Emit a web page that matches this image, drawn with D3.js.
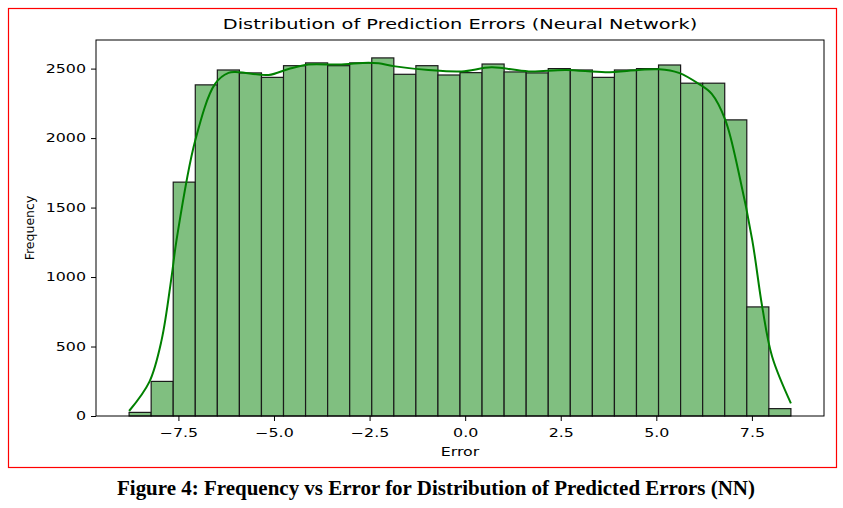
<html>
<head>
<meta charset="utf-8">
<title>Distribution of Prediction Errors</title>
<script src="https://d3js.org/d3.v7.min.js"></script>
<style>
  body { margin: 0; background: #fff; }
  svg text { font-family: "DejaVu Sans", sans-serif; fill: #000; }
</style>
</head>
<body>
<div id="container"></div>
<script>
// histogram of errors, 30 bins from errorMin to errorMax
var errorMin = -8.79, errorMax = 8.52
var binCounts = [26, 249, 1683, 2383, 2490, 2469, 2437, 2521, 2541, 2521,
                 2541, 2577, 2459, 2521, 2454, 2471, 2533, 2476, 2469, 2500,
                 2490, 2437, 2490, 2500, 2526, 2395, 2395, 2131, 785, 53]
// kde line (scaled to counts)
var kdeX = [-8.79, -8.26, -7.94, -7.68, -7.55, -7.06, -6.54, -6.19, -5.93, -5.14,
            -4.62, -4.10, -3.31, -2.53, -2.26, -1.83, -0.96, -0.09, 0.69, 1.66,
            2.63, 3.68, 4.54, 5.07, 5.59, 6.11, 6.45, 6.81, 7.16, 7.51,
            7.77, 8.03, 8.52]
var kdeY = [36, 246, 546, 1000, 1264, 1983, 2390, 2469, 2474, 2454,
            2497, 2529, 2529, 2543, 2538, 2516, 2490, 2480, 2509, 2480,
            2490, 2474, 2490, 2495, 2469, 2390, 2318, 2126, 1745, 1264,
            785, 426, 91]
var xTicks = [-7.5, -5.0, -2.5, 0.0, 2.5, 5.0, 7.5]
var yTicks = [0, 500, 1000, 1500, 2000, 2500]

var W = 843, H = 508
var m = {left: 96, right: 824, top: 40, bottom: 416}
var sx = 1.38   // the source picture is stretched sideways

var svg = d3.select('#container').append('svg')
  .attr('width', W).attr('height', H)

// red frame around the figure
svg.append('rect')
  .attr('x', 8.5).attr('y', 8.5).attr('width', 828).attr('height', 459)
  .attr('fill', 'none').attr('stroke', '#ff0000').attr('stroke-width', 1.2)

var binW = (errorMax - errorMin) / binCounts.length
var pad = (errorMax - errorMin) * 0.05
var x = d3.scaleLinear().domain([errorMin - pad, errorMax + pad]).range([m.left, m.right])
var y = d3.scaleLinear().domain([0, d3.max(binCounts) * 1.05]).range([m.bottom, m.top])

svg.append('g').selectAll('rect')
  .data(binCounts)
  .enter().append('rect')
    .attr('x', function(d, i){ return x(errorMin + i * binW) })
    .attr('width', function(d, i){ return x(errorMin + (i + 1) * binW) - x(errorMin + i * binW) })
    .attr('y', function(d){ return y(d) })
    .attr('height', function(d){ return y(0) - y(d) })
    .attr('fill', '#80bf80')
    .attr('stroke', '#1a1a1a')
    .attr('stroke-width', 1.2)

var line = d3.line()
  .x(function(d){ return x(d[0]) })
  .y(function(d){ return y(d[1]) })
  .curve(d3.curveCatmullRom.alpha(0.5))

svg.append('path')
  .datum(d3.zip(kdeX, kdeY))
  .attr('d', line)
  .attr('fill', 'none')
  .attr('stroke', '#008000')
  .attr('stroke-width', 2)

// axes
var xAxis = svg.append('g')
  .attr('transform', 'translate(0,' + m.bottom + ')')
  .call(d3.axisBottom(x).tickValues(xTicks).tickFormat(d3.format('.1f')).tickSizeOuter(0).tickSize(5))
var yAxis = svg.append('g')
  .attr('transform', 'translate(' + m.left + ',0)')
  .call(d3.axisLeft(y).tickValues(yTicks).tickFormat(d3.format('d')).tickSizeOuter(0).tickSize(5))

svg.selectAll('.domain').remove()
svg.selectAll('.tick line').attr('stroke', '#000').attr('stroke-width', 1)
svg.selectAll('.tick text')
  .style('font-size', '11.5px')
  .style('font-family', '"DejaVu Sans", sans-serif')
  .attr('transform', 'scale(' + sx + ',1)')
xAxis.selectAll('.tick text').attr('y', 13).attr('dy', '0.71em')
yAxis.selectAll('.tick text').attr('x', -10 / sx)

svg.append('rect')
  .attr('x', m.left).attr('y', m.top)
  .attr('width', m.right - m.left).attr('height', m.bottom - m.top)
  .attr('fill', 'none').attr('stroke', '#000').attr('stroke-width', 1)

svg.append('text')
  .attr('transform', 'translate(' + ((m.left + m.right) / 2) + ',29) scale(' + sx + ',1)')
  .attr('text-anchor', 'middle')
  .style('font-size', '14px')
  .text('Distribution of Prediction Errors (Neural Network)')

svg.append('text')
  .attr('transform', 'translate(' + ((m.left + m.right) / 2) + ',456) scale(' + sx + ',1)')
  .attr('text-anchor', 'middle')
  .style('font-size', '11.5px')
  .text('Error')

svg.append('text')
  .attr('transform', 'translate(34,' + ((m.top + m.bottom) / 2) + ') rotate(-90)')
  .attr('text-anchor', 'middle')
  .style('font-size', '12.5px')
  .text('Frequency')

svg.append('text')
  .attr('x', 436).attr('y', 495)
  .attr('text-anchor', 'middle')
  .attr('textLength', 638).attr('lengthAdjust', 'spacingAndGlyphs')
  .style('font-family', '"Liberation Serif", "Times New Roman", serif')
  .style('font-weight', 'bold')
  .style('font-size', '21px')
  .text('Figure 4: Frequency vs Error for Distribution of Predicted Errors (NN)')
</script>
</body>
</html>
